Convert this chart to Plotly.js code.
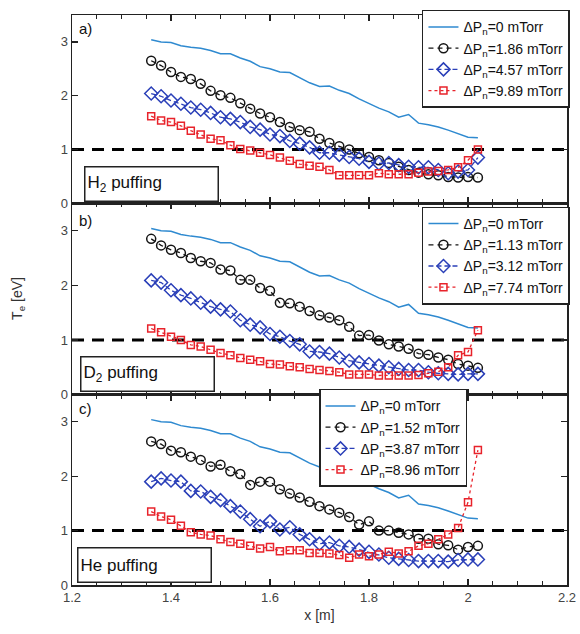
<!DOCTYPE html>
<html><head><meta charset="utf-8">
<script src="https://cdn.plot.ly/plotly-3.0.1.min.js"></script>
<style>html,body{margin:0;padding:0;background:#fff}#chart{width:580px;height:634px}</style>
</head><body><div id="chart"></div>
<script>
// x positions [m]
const xPos = [1.36,1.38,1.40,1.42,1.44,1.46,1.48,1.50,1.52,1.54,1.56,1.58,1.60,1.62,1.64,1.66,1.68,1.70,1.72,1.74,1.76,1.78,1.80,1.82,1.84,1.86,1.88,1.90,1.92,1.94,1.96,1.98,2.00,2.02];
const xTickVals = [1.2,1.4,1.6,1.8,2.0,2.2];
const xTickText = ['1.2','1.4','1.6','1.8','2','2.2'];
const yTickVals = [0,1,2,3];
const threshX = [1.2, 2.2];
const threshY = [1, 1];

// reference (0 mTorr)
const te0 = [3.04,3.00,2.99,2.93,2.90,2.88,2.84,2.78,2.78,2.70,2.64,2.54,2.50,2.44,2.43,2.33,2.24,2.17,2.18,2.10,2.04,1.94,1.85,1.77,1.70,1.60,1.65,1.49,1.46,1.42,1.36,1.30,1.23,1.22];

// a) H2 puffing
const labelsA = ['1.86','4.57','9.89'];
const teA1 = [2.65,2.56,2.44,2.35,2.31,2.22,2.09,2.01,1.96,1.86,1.76,1.67,1.60,1.51,1.42,1.36,1.33,1.20,1.12,1.06,1.00,0.93,0.86,0.80,0.75,0.68,0.62,0.57,0.54,0.52,0.49,0.48,0.49,0.48];
const teA2 = [2.04,1.99,1.91,1.85,1.78,1.74,1.68,1.60,1.57,1.51,1.42,1.37,1.28,1.25,1.16,1.11,1.04,0.94,0.94,0.90,0.86,0.83,0.77,0.74,0.75,0.71,0.68,0.67,0.67,0.62,0.56,0.59,0.62,0.85];
const teA3 = [1.62,1.54,1.51,1.44,1.35,1.28,1.20,1.17,1.08,1.01,0.98,0.94,0.90,0.85,0.79,0.73,0.70,0.68,0.62,0.52,0.52,0.52,0.52,0.56,0.54,0.54,0.54,0.57,0.59,0.60,0.62,0.67,0.80,1.00];

// b) D2 puffing
const labelsB = ['1.13','3.12','7.74'];
const teB1 = [2.85,2.73,2.65,2.59,2.50,2.44,2.41,2.29,2.27,2.10,2.10,1.95,1.90,1.68,1.67,1.61,1.53,1.45,1.41,1.36,1.24,1.08,1.09,0.99,0.92,0.88,0.84,0.75,0.73,0.68,0.64,0.56,0.53,0.49];
const teB2 = [2.09,2.05,1.91,1.82,1.76,1.68,1.61,1.56,1.52,1.36,1.28,1.23,1.11,1.06,0.98,0.92,0.79,0.78,0.75,0.68,0.62,0.59,0.56,0.53,0.50,0.47,0.45,0.45,0.41,0.39,0.38,0.37,0.38,0.38];
const teB3 = [1.21,1.14,1.06,1.00,0.91,0.88,0.82,0.76,0.72,0.67,0.64,0.61,0.56,0.55,0.52,0.50,0.47,0.45,0.43,0.41,0.37,0.37,0.37,0.35,0.35,0.35,0.35,0.36,0.39,0.42,0.50,0.72,0.78,1.18];

// c) He puffing
const labelsC = ['1.52','3.87','8.96'];
const teC1 = [2.64,2.59,2.47,2.44,2.36,2.30,2.18,2.21,2.09,2.04,1.84,1.90,1.90,1.76,1.68,1.61,1.53,1.45,1.39,1.33,1.25,1.11,1.17,1.00,1.00,0.96,0.93,0.85,0.85,0.75,0.73,0.65,0.70,0.72];
const teC2 = [1.90,1.96,1.92,1.90,1.73,1.72,1.62,1.56,1.45,1.35,1.21,1.08,1.17,1.02,1.06,0.93,0.84,0.76,0.78,0.72,0.70,0.65,0.61,0.56,0.50,0.48,0.46,0.44,0.44,0.44,0.43,0.46,0.47,0.47];
const teC3 = [1.35,1.26,1.20,1.09,0.97,0.93,0.91,0.84,0.79,0.76,0.72,0.67,0.70,0.62,0.64,0.64,0.59,0.59,0.58,0.55,0.50,0.56,0.53,0.56,0.61,0.58,0.62,0.72,0.76,0.84,0.93,1.05,1.52,2.48];

const panelNames = ['H<sub>2</sub> puffing','D<sub>2</sub> puffing','He puffing'];
const panelTags = ['a)','b)','c)'];

const cBlueLine = '#2f8ad0', cBlack = '#151515', cBlue = '#2a3fb8', cRed = '#e8232b';
const dp = v => '\u0394P<sub>n</sub>=' + v + ' mTorr';
const FONT = 'Liberation Sans, Arial, sans-serif';

const panels = [
  {ax:'', leg:'legend', d:[teA1,teA2,teA3], lab:labelsA},
  {ax:'2', leg:'legend2', d:[teB1,teB2,teB3], lab:labelsB},
  {ax:'3', leg:'legend3', d:[teC1,teC2,teC3], lab:labelsC}
];
const traces = [];
panels.forEach((p,pi) => {
  const xa = 'x' + p.ax, ya = 'y' + p.ax;
  traces.push({x:threshX, y:threshY, xaxis:xa, yaxis:ya, mode:'lines', showlegend:false, hoverinfo:'skip',
    line:{color:'#000', width:3, dash:'12px,8px'}});
  traces.push({x:xPos, y:te0, xaxis:xa, yaxis:ya, mode:'lines', name:dp('0'), legend:p.leg,
    line:{color:cBlueLine, width:1.5}});
  traces.push({x:xPos, y:p.d[0], xaxis:xa, yaxis:ya, mode:'lines+markers', name:dp(p.lab[0]), legend:p.leg,
    line:{color:cBlack, width:1.3, dash:'5px,4px'}, marker:{symbol:'circle-open', size:9, color:cBlack, line:{width:1.5}}});
  traces.push({x:xPos, y:p.d[1], xaxis:xa, yaxis:ya, mode:'lines+markers', name:dp(p.lab[1]), legend:p.leg,
    line:{color:cBlue, width:1.3, dash:'5px,3px'}, marker:{symbol:'diamond-open', size:10, color:cBlue, line:{width:1.5}}});
  traces.push({x:xPos, y:p.d[2], xaxis:xa, yaxis:ya, mode:'lines+markers', name:dp(p.lab[2]), legend:p.leg,
    line:{color:cRed, width:1.3, dash:'dot'}, marker:{symbol:'square-open', size:7, color:cRed, line:{width:1.5}}});
});

const tickFont = {family:FONT, size:13, color:'#444'};
function xAxis(anchor, showLabels, extra){
  return Object.assign({anchor:anchor, range:[1.2,2.2], tickvals:xTickVals, ticktext:xTickText, showticklabels:showLabels,
    ticks:'inside', ticklen:6, tickwidth:1.3, tickcolor:'#222', mirror:'allticks', showline:true, linecolor:'#222', linewidth:1.5,
    showgrid:false, zeroline:false, tickfont:tickFont,
    minor:{dtick:0.05, tick0:1.2, ticks:'inside', ticklen:4, tickwidth:1.2, tickcolor:'#222', showgrid:false}}, extra||{});
}
function yAxis(domain, anchor){
  return {domain:domain, anchor:anchor, range:[0,3.5], tickvals:yTickVals, ticks:'inside', ticklen:6, tickwidth:1.3, tickcolor:'#222',
    mirror:'allticks', showline:true, linecolor:'#222', linewidth:1.5, showgrid:false, zeroline:false, tickfont:tickFont};
}
const legBase = {bgcolor:'#fff', bordercolor:'#222', borderwidth:1.5, font:{family:FONT, size:14, color:'#111'},
  xanchor:'right', yanchor:'top', itemwidth:30};

const annFont = {family:FONT, size:17, color:'#111'};
const annotations = [];
const boxPos = [{x:0.1616,y:0.1},{x:0.1525,y:0.109},{x:0.146,y:0.104}];
const tagPos = [0.926,0.912,0.927];
['', '2', '3'].forEach((ax,i) => {
  annotations.push({text:panelNames[i], xref:'x'+ax+' domain', yref:'y'+ax+' domain', x:boxPos[i].x, y:boxPos[i].y,
    xanchor:'center', yanchor:'middle', showarrow:false, align:'left', width:128, height:29, borderpad:2,
    bordercolor:'#222', borderwidth:1.5, bgcolor:'#fff', font:annFont});
  annotations.push({text:panelTags[i], xref:'x'+ax+' domain', yref:'y'+ax+' domain', x:0.01, y:tagPos[i],
    xanchor:'left', yanchor:'middle', showarrow:false, font:{family:FONT, size:15, color:'#111'}});
});
annotations.push({text:'T<sub>e</sub> [eV]', xref:'paper', yref:'paper', x:-0.109, y:0.502, xanchor:'center', yanchor:'middle',
  textangle:-90, showarrow:false, font:{family:FONT, size:14, color:'#333'}});

const layout = {
  width:580, height:634, margin:{l:72, r:13, t:10, b:49},
  paper_bgcolor:'#fff', plot_bgcolor:'#fff', font:{family:FONT},
  xaxis: xAxis('y', false),
  xaxis2: xAxis('y2', false),
  xaxis3: xAxis('y3', true, {title:{text:'x [m]', font:{family:FONT, size:14, color:'#333'}, standoff:6}}),
  yaxis: yAxis([0.6696,1],'x'),
  yaxis2: yAxis([0.334,0.6696],'x2'),
  yaxis3: yAxis([0,0.334],'x3'),
  legend: Object.assign({}, legBase, {x:1.006, y:1.009}),
  legend2: Object.assign({}, legBase, {x:1.006, y:0.664}),
  legend3: Object.assign({}, legBase, {x:0.798, y:0.344}),
  annotations: annotations,
  showlegend:true
};
Plotly.newPlot('chart', traces, layout, {displayModeBar:false, staticPlot:true});
</script></body></html>
